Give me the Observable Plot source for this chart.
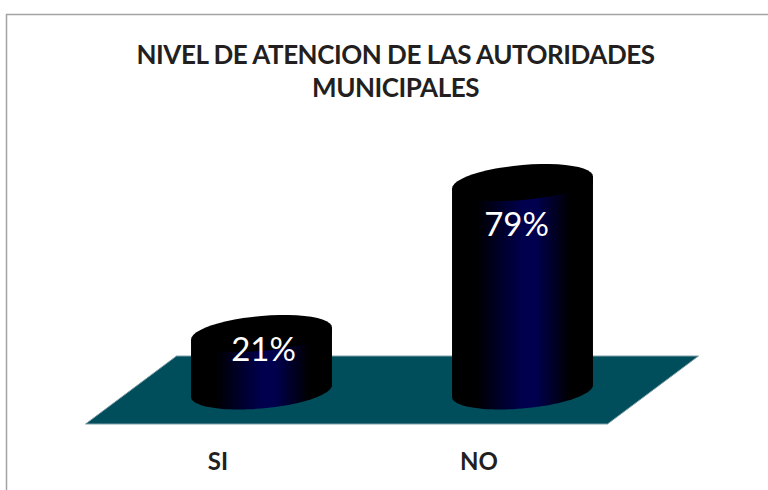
<!DOCTYPE html>
<html>
<head>
<meta charset="utf-8">
<script src="https://cdn.jsdelivr.net/npm/d3@7"></script>
<script src="https://cdn.jsdelivr.net/npm/@observablehq/plot@0.6"></script>
<style>html,body{margin:0;padding:0;background:#fff;overflow:hidden}
.chart-title text{letter-spacing:-0.47px}</style>
</head>
<body>
<div id="chart"></div>
<script>
const categories = ["SI", "NO"];
const percentages = [21, 79];
const percentLabels = ["21%", "79%"];
const chartTitle = "NIVEL DE ATENCION DE LAS AUTORIDADES\nMUNICIPALES";

const rows = categories.map((c, i) => ({category: c, value: percentages[i], label: percentLabels[i]}));

const baseValue = -1.1;
const tilt = -0.085, capRy = 17.5;
const font = "Lato, Carlito, sans-serif";

// points of the tilted ellipse, for angles a0..a1
function arc(cx, cy, rx, a0, a1) {
  const pts = [];
  for (let i = 0; i <= 48; i++) {
    const t = a0 + (a1 - a0) * i / 48;
    const dx = rx * Math.cos(t);
    pts.push([cx + dx, cy + capRy * Math.sin(t) + tilt * dx]);
  }
  return pts;
}

function floorMark(index, {x, y}) {
  const [r0, r1] = x.range();
  const b = y(baseValue);
  const top = b - 35, bottom = b + 33, skew = 45.5;
  const g = d3.create("svg:g");
  g.append("path")
    .attr("d", `M${r0 - skew},${bottom}L${r0 + skew},${top}L${r1 + skew},${top}L${r1 - skew},${bottom}Z`)
    .attr("fill", "#004e5c").attr("stroke", "#7f9fa6").attr("stroke-width", 1);
  return g.node();
}

function frameMark() {
  const g = d3.create("svg:g");
  g.append("path").attr("d", "M6.5,490V14.5H768").attr("fill", "none")
    .attr("stroke", "#a3a3a6").attr("stroke-width", 1.5);
  return g.node();
}

function cylinderRender(index, scales, values, dimensions, context, next) {
  const g = next(index, scales, values, dimensions, context);
  d3.select(g).selectAll("rect").each(function () {
    const r = d3.select(this);
    const w = +r.attr("width"), h = +r.attr("height");
    const x0 = +r.attr("x"), y0 = +r.attr("y");
    const cx = x0 + w / 2, rx = w / 2;
    const lower = arc(cx, y0 + h, rx, 0, Math.PI);
    const pts = [[cx + rx, y0 + tilt * rx], ...lower, [cx - rx, y0 - tilt * rx]];
    d3.select(this.parentNode).append("path")
      .attr("d", "M" + pts.join("L") + "Z").attr("fill", "url(#cyl)");
    d3.select(this.parentNode).append("path")
      .attr("d", "M" + arc(cx, y0, rx, 0, 2 * Math.PI).join("L") + "Z").attr("fill", "#000");
    r.remove();
  });
  return g;
}

const svg = Plot.plot({
  width: 768,
  height: 490,
  margin: 0,
  style: {fontFamily: font, background: "#fff"},
  x: {domain: categories, range: [131, 653], paddingInner: 0.46, paddingOuter: 0.23, round: false, align: 0.5, axis: null},
  y: {domain: [baseValue, 79], range: [391, 182.5], axis: null},
  marks: [
    frameMark,
    floorMark,
    Plot.barY(rows, {x: "category", y1: () => baseValue, y2: "value", fill: "url(#cyl)", render: cylinderRender}),
    Plot.text(rows.filter(d => d.category === "SI"), {x: "category", y: "value", text: "label", dx: 1.5, dy: 16.5, fill: "#fff", fontSize: 33}),
    Plot.text(rows.filter(d => d.category === "NO"), {x: "category", y: "value", text: "label", dx: -6.5, dy: 42, fill: "#fff", fontSize: 33}),
    Plot.text(rows, {x: "category", text: "category", frameAnchor: "bottom", dx: -44, dy: -21, fontSize: 24, fontWeight: 700, fill: "#231f20"}),
    Plot.text([chartTitle], {text: d => d, frameAnchor: "top", dx: 11, dy: 41, fontSize: 26, lineHeight: 1.24, fontWeight: 700, fill: "#231f20", className: "chart-title"})
  ]
});

const defs = d3.select(svg).append("defs");
const grad = defs.append("linearGradient").attr("id", "cyl").attr("x1", 0).attr("x2", 1).attr("y1", 0).attr("y2", 0);
[[0, "#000"], [0.17, "#000"], [0.5, "#00004e"], [0.6, "#00004e"], [0.84, "#000"], [1, "#000"]]
  .forEach(([o, c]) => grad.append("stop").attr("offset", o).attr("stop-color", c));

document.getElementById("chart").appendChild(svg);
</script>
</body>
</html>
